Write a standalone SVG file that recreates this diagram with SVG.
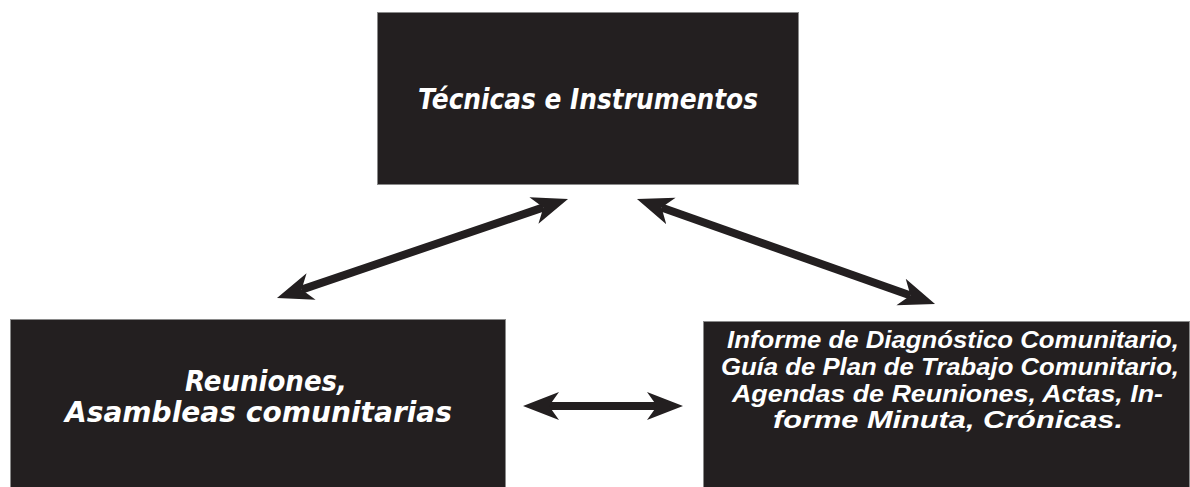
<svg xmlns="http://www.w3.org/2000/svg" width="1190" height="487" viewBox="0 0 1190 487">
<style>
.box{fill:#231f20;stroke:#8a8a8a;stroke-width:1}
.t{fill:#ffffff;font-family:"DejaVu Sans","Liberation Sans",sans-serif;font-style:italic;font-weight:bold;text-anchor:middle}
.s{fill:#ffffff;font-family:"Liberation Sans",Arial,sans-serif;font-style:italic;font-weight:bold;text-anchor:middle;font-size:23px}
.c{stroke:#231f20;stroke-width:8;fill:none;marker-start:url(#ah);marker-end:url(#ah)}
</style>
<defs>
<marker id="ah" viewBox="0 -16 40 32" refX="10" refY="0" markerWidth="40" markerHeight="32" markerUnits="userSpaceOnUse" orient="auto-start-reverse">
<path d="M0,-14 L36,0 L0,14 L10,0 Z" fill="#231f20"/>
</marker>
</defs>
<rect width="1190" height="487" fill="#ffffff"/>
<g id="node-tecnicas">
<rect class="box" x="377.5" y="12.5" width="421" height="172"/>
<text class="t" x="588" y="109" font-size="28" textLength="340" lengthAdjust="spacingAndGlyphs">Técnicas e Instrumentos</text>
</g>
<g id="node-reuniones">
<rect class="box" x="10.5" y="319.5" width="495" height="170"/>
<text class="t" x="266" y="391" font-size="28" textLength="162" lengthAdjust="spacingAndGlyphs">Reuniones,</text>
<text class="t" x="258.5" y="422" font-size="28" textLength="387" lengthAdjust="spacingAndGlyphs">Asambleas comunitarias</text>
</g>
<g id="node-informe">
<rect class="box" x="703.5" y="321.5" width="486" height="170"/>
<text class="s" x="953" y="348" textLength="452" lengthAdjust="spacingAndGlyphs">Informe de Diagnóstico Comunitario,</text>
<text class="s" x="950" y="375" textLength="458" lengthAdjust="spacingAndGlyphs">Guía de Plan de Trabajo Comunitario,</text>
<text class="s" x="947.5" y="402" textLength="431" lengthAdjust="spacingAndGlyphs">Agendas de Reuniones, Actas, In-</text>
<text class="s" x="948" y="428" textLength="350" lengthAdjust="spacingAndGlyphs">forme Minuta, Crónicas.</text>
</g>
<g id="connectors">
<line class="c" x1="301.6" y1="289.6" x2="543.4" y2="207.4"/>
<line class="c" x1="661.5" y1="207.6" x2="910.5" y2="295.4"/>
<line class="c" x1="549" y1="406" x2="657" y2="406"/>
</g>
</svg>
